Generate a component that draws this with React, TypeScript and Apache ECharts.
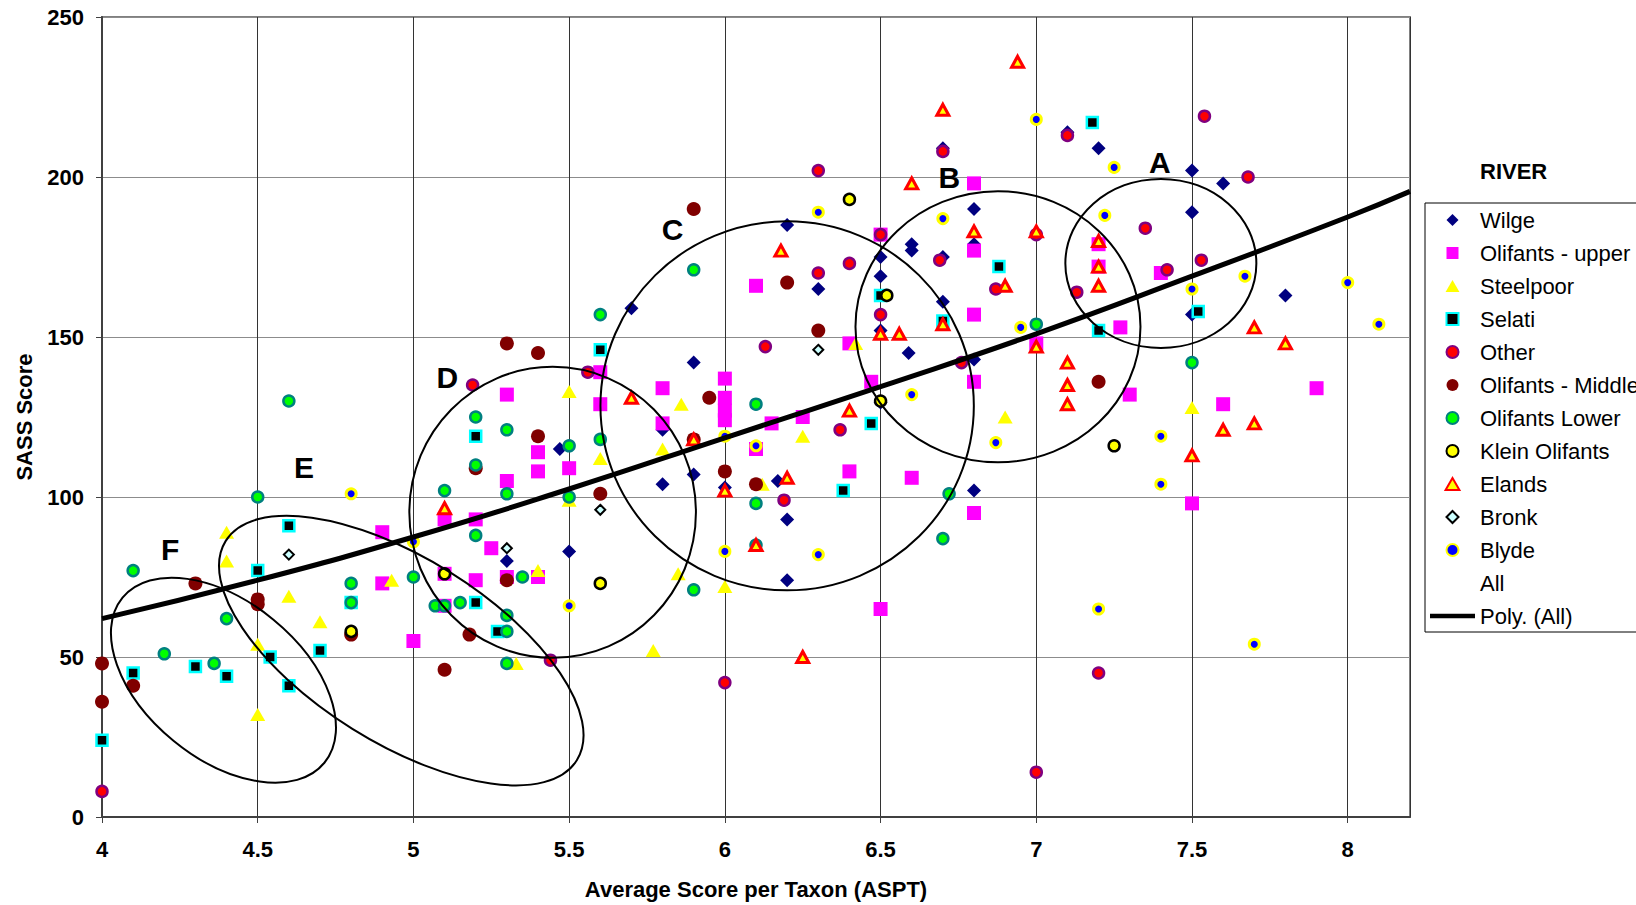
import React, { useEffect, useRef } from 'react';
import * as echarts from 'echarts';

type P = [number, number];

const wilge: P[] = [[5.3,80],[5.47,115],[5.5,83],[5.7,159],[5.8,121],[5.8,104],[5.9,142],[5.9,107],[6.0,103],[6.17,105],[6.2,93],[6.2,74],[6.2,185],[6.3,165],[6.5,129.5],[6.5,152],[6.5,175],[6.5,169],[6.59,145],[6.6,179],[6.6,177],[6.7,175],[6.7,209],[6.7,161],[6.8,190],[6.8,179],[6.8,143],[6.8,102],[7.1,214],[7.2,209],[7.5,202],[7.6,198],[7.5,189],[7.5,157],[7.8,163]];
const olifantsUpper: P[] = [[4.9,73],[4.9,89],[5.0,55],[5.1,76],[5.1,66],[5.1,93],[5.2,74],[5.2,93],[5.25,84],[5.3,75],[5.3,105],[5.3,132],[5.4,75],[5.4,108],[5.4,114],[5.5,109],[5.6,139],[5.6,129],[5.8,134],[5.8,123],[6.0,137],[6.0,131],[6.0,127],[6.0,124],[6.1,115],[6.1,166],[6.15,123],[6.25,125],[6.4,148],[6.4,108],[6.47,136],[6.5,182],[6.5,65],[6.6,106],[6.8,198],[6.8,177],[6.8,157],[6.8,136],[6.8,95],[7.0,148],[7.2,179],[7.2,172],[7.27,153],[7.3,132],[7.4,170],[7.5,98],[7.6,129],[7.9,134]];
const steelpoor: P[] = [[4.4,89],[4.4,80],[4.5,54],[4.5,32],[4.6,69],[4.7,61],[4.93,74],[5.33,48],[5.4,77],[5.5,133],[5.5,99],[5.6,112],[5.77,52],[5.85,76],[5.86,129],[5.8,115],[6.0,72],[6.12,104],[6.25,119],[6.42,148],[6.9,125],[7.5,128]];
const selati: P[] = [[4.0,24],[4.1,45],[4.3,47],[4.4,44],[4.5,77],[4.54,50],[4.6,91],[4.6,41],[4.7,52],[4.8,67],[5.2,67],[5.2,119],[5.27,58],[5.6,146],[6.38,102],[6.47,123],[6.5,163],[6.7,155],[6.88,172],[7.18,217],[7.2,152],[7.52,158]];
const other: P[] = [[4.0,8],[5.19,135],[5.44,49],[5.56,139],[6.0,42],[6.13,147],[6.19,99],[6.3,202],[6.3,170],[6.37,121],[6.4,173],[6.5,182],[6.5,157],[6.69,174],[6.7,208],[6.76,142],[6.87,165],[7.0,182],[7.0,14],[7.1,213],[7.13,164],[7.2,45],[7.35,184],[7.42,171],[7.53,174],[7.54,219],[7.68,200]];
const olifantsMiddle: P[] = [[4.0,48],[4.0,36],[4.1,41],[4.3,73],[4.5,68],[4.5,66.5],[4.8,57],[5.1,46],[5.18,57],[5.2,109],[5.3,148],[5.3,74],[5.4,145],[5.4,119],[5.6,101],[5.9,190],[5.9,118],[5.95,131],[6.0,108],[6.1,104],[6.2,167],[6.3,152],[7.2,136]];
const olifantsLower: P[] = [[4.1,77],[4.2,51],[4.36,48],[4.4,62],[4.5,100],[4.6,130],[4.8,73],[4.8,67],[5.0,75],[5.07,66],[5.1,66],[5.1,102],[5.15,67],[5.2,125],[5.2,110],[5.2,88],[5.3,121],[5.3,101],[5.3,63],[5.3,58],[5.3,48],[5.35,75],[5.5,116],[5.5,100],[5.6,157],[5.6,118],[5.9,171],[5.9,71],[6.1,129],[6.1,98],[6.1,85],[6.7,87],[6.72,101],[7.0,154],[7.5,142]];
const kleinOlifants: P[] = [[4.8,58],[5.1,76],[5.6,73],[6.4,193],[6.5,130],[6.52,163],[7.25,116]];
const elands: P[] = [[5.1,96.5],[5.7,131],[5.9,118],[6.0,102],[6.1,85],[6.18,177],[6.2,106],[6.25,50],[6.4,127],[6.5,151],[6.56,151],[6.6,198],[6.7,221],[6.7,154],[6.8,183],[6.9,166],[6.94,236],[7.0,183],[7.0,147],[7.1,142],[7.1,135],[7.1,129],[7.2,180],[7.2,172],[7.2,166],[7.5,113],[7.6,121],[7.7,153],[7.7,123],[7.8,148]];
const bronk: P[] = [[4.6,82],[5.3,84],[5.6,96],[6.3,146]];
const blyde: P[] = [[4.8,101],[5.0,86],[5.5,66],[6.0,119],[6.1,116],[6.0,83],[6.3,82],[6.3,189],[6.6,132],[6.7,187],[6.87,117],[6.95,153],[7.0,218],[7.2,65],[7.22,188],[7.25,203],[7.4,119],[7.4,104],[7.5,165],[7.67,169],[7.7,54],[8.0,167],[8.1,154]];

// polynomial trendline
const trendX = [4, 4.5, 5, 5.5, 6, 6.5, 7, 7.5, 8, 8.2];
const trendY = [62, 74, 87.5, 102.5, 118.5, 134.5, 151, 169, 187.5, 195.5];

// group annotations (centres in data units)
const groupLabels = ['A', 'B', 'C', 'D', 'E', 'F'];
const groupCX = [7.4, 6.877, 6.2, 5.447, 4.961, 4.39];
const groupCY = [173, 153.2, 128.5, 95.2, 52, 42.75];
const groupLabelX = [7.397, 6.721, 5.832, 5.109, 4.649, 4.219];
const groupLabelY = [204.4, 199.7, 183.5, 137.2, 109.1, 83.5];
// ellipse geometry in pixels
const ellRX = [95.5, 142.5, 186.7, 143.3, 207, 130.4];
const ellRY = [84.5, 135.5, 184.5, 145.5, 92.3, 78.5];
const ellTilt = [0, 0, 0, 0, 32, 39.3];

const FONT = "'Liberation Sans', Arial, Helvetica, sans-serif";

const ICON_DIAMOND = 'path://M1,0 L2,1 L1,2 L0,1 Z';
const ICON_RECT = 'path://M0,0 H10 V10 H0 Z';
const ICON_TRIANGLE = 'path://M7.5,0 L15,13 L0,13 Z';
const ICON_CIRCLE = 'path://M0,5 A5,5 0 1,1 10,5 A5,5 0 1,1 0,5 Z';

function scatter(name: string, data: P[], symbol: string, size: any, color: string, borderColor?: string, borderWidth?: number) {
  return {
    type: 'scatter',
    name,
    data,
    symbol,
    symbolSize: size,
    itemStyle: { color, borderColor: borderColor || color, borderWidth: borderWidth || 0, opacity: 1 },
    emphasis: { disabled: true },
    silent: true,
  };
}

export default function App() {
  const ref = useRef<HTMLDivElement>(null);
  useEffect(() => {
    const chart = echarts.init(ref.current!, null, { renderer: 'svg' });
    const allPoints: P[] = [
      ...wilge, ...olifantsUpper, ...steelpoor, ...selati, ...other, ...olifantsMiddle,
      ...olifantsLower, ...kleinOlifants, ...elands, ...bronk, ...blyde,
    ];
    const legendItems = [
      { name: 'Wilge', icon: ICON_DIAMOND },
      { name: 'Olifants - upper', icon: ICON_RECT },
      { name: 'Steelpoor', icon: ICON_TRIANGLE },
      { name: 'Selati', icon: ICON_RECT },
      { name: 'Other', icon: ICON_CIRCLE },
      { name: 'Olifants - Middle', icon: ICON_CIRCLE },
      { name: 'Olifants Lower', icon: ICON_CIRCLE },
      { name: 'Klein Olifants', icon: ICON_CIRCLE },
      { name: 'Elands', icon: ICON_TRIANGLE },
      { name: 'Bronk', icon: ICON_DIAMOND },
      { name: 'Blyde', icon: ICON_CIRCLE },
    ];
    const option: any = {
      animation: false,
      backgroundColor: '#ffffff',
      textStyle: { fontFamily: FONT },
      title: {
        text: 'RIVER',
        left: 1480,
        top: 160,
        padding: 0,
        textStyle: { fontFamily: FONT, fontSize: 22, fontWeight: 'bold', color: '#000' },
      },
      grid: {
        left: 102,
        right: 226,
        top: 17,
        bottom: 88,
        show: true,
        borderColor: '#808080',
        borderWidth: 2,
        backgroundColor: '#ffffff',
      },
      xAxis: {
        type: 'value',
        min: 4,
        max: 8.2,
        interval: 0.5,
        name: 'Average Score per Taxon (ASPT)',
        nameLocation: 'middle',
        nameGap: 61,
        nameTextStyle: { fontFamily: FONT, fontSize: 22, fontWeight: 'bold', color: '#000' },
        axisLine: { show: true, onZero: false, lineStyle: { color: '#404040', width: 2 } },
        axisTick: { show: true, length: 6, lineStyle: { color: '#404040' } },
        axisLabel: { margin: 21, fontFamily: FONT, fontSize: 22, fontWeight: 'bold', color: '#000', showMaxLabel: false },
        splitLine: { show: true, lineStyle: { color: '#333333', width: 1 } },
      },
      yAxis: {
        type: 'value',
        min: 0,
        max: 250,
        interval: 50,
        name: 'SASS Score',
        nameLocation: 'middle',
        nameGap: 67,
        nameTextStyle: { fontFamily: FONT, fontSize: 22, fontWeight: 'bold', color: '#000' },
        axisLine: { show: true, lineStyle: { color: '#404040', width: 2 } },
        axisTick: { show: true, length: 6, lineStyle: { color: '#404040' } },
        axisLabel: { margin: 18, fontFamily: FONT, fontSize: 22, fontWeight: 'bold', color: '#000' },
        splitLine: { show: true, lineStyle: { color: '#8c8c8c', width: 1 } },
      },
      legend: {
        orient: 'vertical',
        left: 1425,
        top: 203,
        padding: [6, 20, 5, 5],
        itemWidth: 45,
        itemHeight: 12,
        itemGap: 11,
        symbolKeepAspect: true,
        backgroundColor: '#ffffff',
        borderColor: '#000000',
        borderWidth: 1,
        selectedMode: false,
        textStyle: { fontFamily: FONT, fontSize: 22, color: '#000' },
        data: [
          ...legendItems,
          { name: 'All', icon: 'none' },
          {
            name: 'Poly. (All)',
            icon: 'path://M0 0H45V4.5H0Z',
            itemStyle: { color: '#000000', borderWidth: 0 },
          },
        ],
      },
      series: [
        scatter('Wilge', wilge, 'diamond', 14, '#000080'),
        scatter('Olifants - upper', olifantsUpper, 'rect', 14, '#ff00ff'),
        scatter('Steelpoor', steelpoor, 'triangle', [15, 13], '#ffff00'),
        scatter('Selati', selati, 'rect', 11, '#000000', '#00ffff', 2.5),
        scatter('Other', other, 'circle', 11, '#ff0000', '#800080', 2.5),
        scatter('Olifants - Middle', olifantsMiddle, 'circle', 14, '#800000'),
        scatter('Olifants Lower', olifantsLower, 'circle', 11, '#00ff00', '#008080', 2.5),
        scatter('Klein Olifants', kleinOlifants, 'circle', 11, '#ffff00', '#000000', 2.5),
        scatter('Elands', elands, 'triangle', [12, 11], '#ffff00', '#ff0000', 3),
        scatter('Bronk', bronk, 'diamond', 10, '#ccffff', '#000000', 2),
        scatter('Blyde', blyde, 'circle', 10, '#0000ff', '#ffff00', 3),
        {
          type: 'scatter',
          name: 'All',
          data: allPoints,
          symbol: 'none',
          symbolSize: 0,
          silent: true,
          itemStyle: { color: 'rgba(0,0,0,0)' },
        },
        {
          type: 'line',
          name: 'Poly. (All)',
          data: trendX.map((x, i) => [x, trendY[i]]),
          smooth: true,
          symbol: 'none',
          showSymbol: false,
          silent: true,
          z: 3,
          lineStyle: { color: '#000000', width: 5 },
          itemStyle: { color: '#000000' },
        },
      ],
    };
    chart.setOption(option);

    const graphics: any[] = [];
    groupLabels.forEach((lab, i) => {
      const c = chart.convertToPixel({ gridIndex: 0 }, [groupCX[i], groupCY[i]]) as number[];
      const l = chart.convertToPixel({ gridIndex: 0 }, [groupLabelX[i], groupLabelY[i]]) as number[];
      graphics.push({
        type: 'ellipse',
        x: c[0],
        y: c[1],
        rotation: (-ellTilt[i] * Math.PI) / 180,
        shape: { cx: 0, cy: 0, rx: ellRX[i], ry: ellRY[i] },
        style: { fill: 'none', stroke: '#000000', lineWidth: 2 },
        silent: true,
        z: 10,
      });
      graphics.push({
        type: 'text',
        x: l[0],
        y: l[1],
        style: {
          text: lab,
          fontFamily: FONT,
          fontSize: 30,
          fontWeight: 'bold',
          fill: '#000000',
          align: 'center',
          verticalAlign: 'middle',
        },
        silent: true,
        z: 10,
      });
    });
    chart.setOption({ graphic: graphics });

    return () => chart.dispose();
  }, []);
  return (
    <div
      ref={ref}
      style={{ position: 'fixed', left: 0, top: 0, width: 1636, height: 905, background: '#fff' }}
    />
  );
}
